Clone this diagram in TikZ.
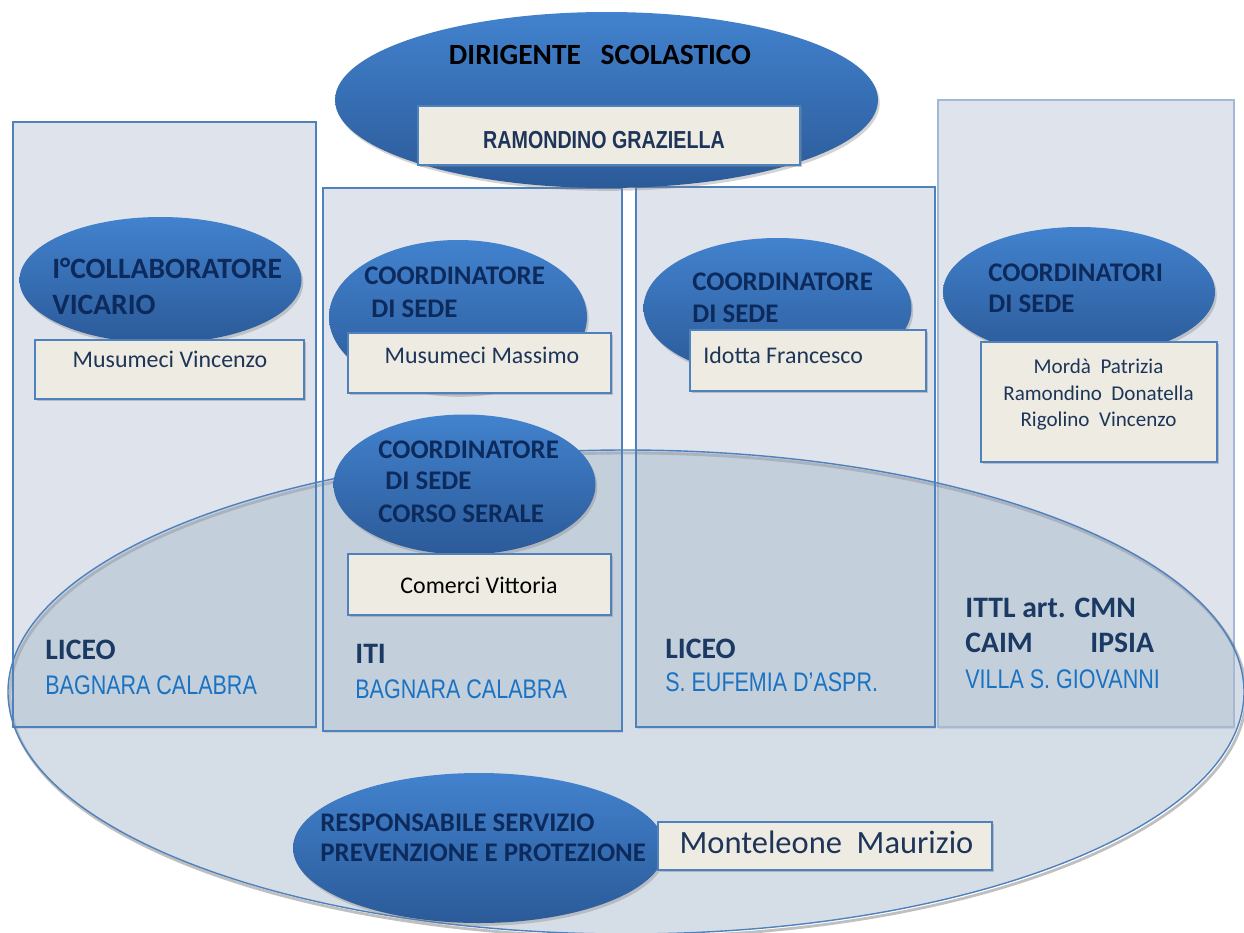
\documentclass[tikz,border=0pt]{standalone}
\usepackage{fontspec}
\setmainfont{Carlito}
\newfontfamily\narrowfont[FakeStretch=0.8]{Liberation Sans}
\usepackage{tikz}
\usetikzlibrary{shadows}
\definecolor{colfill}{HTML}{DFE4EC}
\definecolor{colline}{HTML}{4F81BD}
\definecolor{collite}{HTML}{A3B8D6}
\definecolor{bigfill}{HTML}{ABBBCD}
\definecolor{elltop}{HTML}{4282CE}
\definecolor{ellbot}{HTML}{2B5A98}
\definecolor{boxfill}{HTML}{EEECE2}
\definecolor{navy}{HTML}{0D2A5C}
\definecolor{namecol}{HTML}{1E3559}
\definecolor{sitecol}{HTML}{1B3A63}
\definecolor{townblue}{HTML}{1A72C2}
\tikzset{
  column/.style={fill=colfill, draw=colline, line width=0.8pt,
    drop shadow={shadow xshift=0.4pt, shadow yshift=-1.2pt, opacity=0.3}},
  area/.style={fill=bigfill, fill opacity=0.5, draw=colline, line width=0.8pt},
  role/.style={top color=elltop, bottom color=ellbot,
    drop shadow={shadow xshift=1pt, shadow yshift=-1.6pt, opacity=0.35}},
  namebox/.style={fill=boxfill, draw=colline, line width=0.8pt,
    drop shadow={shadow xshift=1pt, shadow yshift=-1.4pt, opacity=0.4}},
  roletxt/.style={anchor=base west, inner sep=0pt, text=navy,
    font=\fontsize{15.3}{18}\selectfont\bfseries},
  nametxt/.style={anchor=base, inner sep=0pt, text=namecol,
    font=\fontsize{13.6}{16}\selectfont},
  sitetxt/.style={anchor=base west, inner sep=0pt, text=sitecol,
    font=\fontsize{16.9}{20}\selectfont\bfseries},
  towntxt/.style={anchor=base west, inner sep=0pt, text=townblue,
    font=\narrowfont\fontsize{15.3}{18}\selectfont},
}
\begin{document}
\begin{tikzpicture}[x=0.02cm, y=-0.02cm]
  \useasboundingbox (0,0) rectangle (1244,933);
  \clip (0,0) rectangle (1244,933);

  % sedi
  \path[column] (13,122) rectangle (316,727);
  \path[column] (323,188) rectangle (622,731);
  \path[column] (636,187) rectangle (935,727);
  \path[column, draw=collite] (938,100) rectangle (1234,727);

  \draw[black, opacity=0.25, line width=1.6pt] (628,695) ellipse (618 and 242);
  \path[area] (626,692) ellipse (618 and 242);
  \draw[colline, line width=0.8pt] (13,122) rectangle (316,727)
    (323,188) rectangle (622,731) (636,187) rectangle (935,727);

  % dirigente
  \path[role] (606.5,100) ellipse (271.5 and 88);
  \path[namebox] (418,106) rectangle (800,165);
  \node[anchor=base, inner sep=0pt, font=\fontsize{16.7}{20}\selectfont\bfseries]
    (dirigente) at (600,64) {DIRIGENTE\ \ \ SCOLASTICO};
  \node[anchor=base, inner sep=0pt, text=namecol,
    font=\narrowfont\fontsize{14}{17}\selectfont\bfseries]
    (graziella) at (604,148) {RAMONDINO GRAZIELLA};

  % vicario
  \path[role] (160.5,280) ellipse (141 and 63);
  \path[namebox] (35,340) rectangle (304,399);
  \node[roletxt, font=\fontsize{16.8}{20}\selectfont\bfseries] (collab) at (52,278) {I°COLLABORATORE};
  \node[roletxt, font=\fontsize{16.8}{20}\selectfont\bfseries] (vicario) at (52,314) {VICARIO};
  \node[nametxt] (vincenzo) at (170,367) {Musumeci Vincenzo};

  % iti
  \path[role] (458,317) ellipse (129 and 77);
  \path[namebox] (348,333) rectangle (611,393);
  \node[roletxt] (coordA) at (364,284) {COORDINATORE};
  \node[roletxt] (sedeA) at (371,317) {DI SEDE};
  \node[nametxt] (massimo) at (482,363) {Musumeci Massimo};

  \path[role] (464.5,484.5) ellipse (131 and 70);
  \path[namebox] (348,554) rectangle (611,615);
  \node[roletxt] (coordB) at (378,458) {COORDINATORE};
  \node[roletxt] (sedeB) at (385,489) {DI SEDE};
  \node[roletxt] (serale) at (378,522) {CORSO SERALE};
  \node[nametxt, text=black] (vittoria) at (479,593) {Comerci Vittoria};

  % s. eufemia
  \path[role] (777.5,308) ellipse (134 and 70);
  \path[namebox] (690,330) rectangle (926,391);
  \node[roletxt] (coordC) at (692,290) {COORDINATORE};
  \node[roletxt] (sedeC) at (692,322) {DI SEDE};
  \node[nametxt, anchor=base west] (francesco) at (703,363) {Idotta Francesco};

  % villa s. giovanni
  \path[role] (1079,292) ellipse (136 and 65);
  \path[namebox] (981,342) rectangle (1217,462);
  \node[roletxt] (coordD) at (988,281) {COORDINATORI};
  \node[roletxt] (sedeD) at (988,312) {DI SEDE};
  \node[nametxt, font=\fontsize{12}{14}\selectfont] (patrizia) at (1098.5,373) {Mordà\ \ Patrizia};
  \node[nametxt, font=\fontsize{12}{14}\selectfont] (donatella) at (1098.5,400) {Ramondino\ \ Donatella};
  \node[nametxt, font=\fontsize{12}{14}\selectfont] (rigolino) at (1098.5,426) {Rigolino\ \ Vincenzo};

  % plessi
  \node[sitetxt] (liceoA) at (45,659) {LICEO};
  \node[towntxt] (bagnaraA) at (45,694) {BAGNARA CALABRA};
  \node[sitetxt] (iti) at (355,663) {ITI};
  \node[towntxt] (bagnaraB) at (355,698) {BAGNARA CALABRA};
  \node[sitetxt] (liceoB) at (665,658) {LICEO};
  \node[towntxt] (eufemia) at (665,691) {S. EUFEMIA D’ASPR.};
  \node[sitetxt] (ittl) at (965,617) {ITTL art. CMN};
  \node[sitetxt] (caim) at (965,652) {CAIM};
  \node[sitetxt] (ipsia) at (1090,652) {IPSIA};
  \node[towntxt] (villa) at (965,688) {VILLA S. GIOVANNI};

  % rspp
  \path[role] (479,848) ellipse (186 and 75);
  \path[namebox] (658,822) rectangle (992,870);
  \node[roletxt] (rspp) at (320,831) {RESPONSABILE SERVIZIO};
  \node[roletxt] (prevenzione) at (320,861) {PREVENZIONE E PROTEZIONE};
  \node[nametxt, font=\fontsize{18.5}{22}\selectfont] (maurizio) at (826.5,853) {Monteleone\ \ Maurizio};
\end{tikzpicture}
\end{document}
